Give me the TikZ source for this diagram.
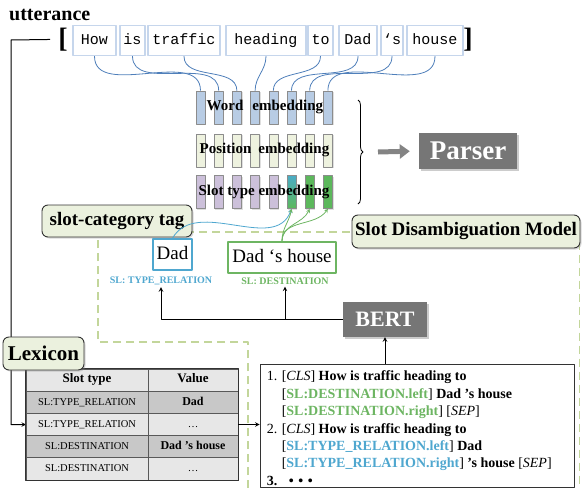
\documentclass[tikz,border=0pt]{standalone}
\usepackage{fontspec}
\setmainfont{Liberation Serif}
\setmonofont{Liberation Mono}
\usetikzlibrary{positioning,shadows,decorations.pathreplacing,arrows.meta}

\definecolor{wordedge}{HTML}{C6D6EC}
\definecolor{linkblue}{HTML}{4F7FBA}
\definecolor{wordcol}{HTML}{B8CCE4}
\definecolor{poscol}{HTML}{EEF2DF}
\definecolor{slotcol}{HTML}{CCC0DA}
\definecolor{slotteal}{HTML}{4BACC6}
\definecolor{slotgreen}{HTML}{5CB85C}
\definecolor{tagfill}{HTML}{EBF1DE}
\definecolor{boxgray}{HTML}{767676}
\definecolor{slblue}{HTML}{4FA7CF}
\definecolor{slgreen}{HTML}{6DB562}
\definecolor{dashgreen}{HTML}{C3D69B}
\definecolor{rowdark}{HTML}{C8C8C8}
\definecolor{rowlight}{HTML}{E7E7E7}

\begin{document}
\begin{tikzpicture}[x=1pt, y=-1pt, line join=round, >=stealth,
  wordbox/.style={draw=wordedge, line width=1.4pt, minimum height=30, inner sep=0pt, text height=10.5, text depth=3, font=\ttfamily\fontsize{15}{15}\selectfont},
  brk/.style={inner sep=0pt, font=\bfseries\fontsize{28}{28}\selectfont},
  embcol/.style={draw=black!45, line width=0.6pt, minimum width=9, minimum height=33, inner sep=0pt, drop shadow={opacity=0.25, shadow xshift=1.2pt, shadow yshift=-1.2pt}},
  emblabel/.style={inner sep=0pt, font=\bfseries\fontsize{15}{15}\selectfont},
  wordlink/.style={draw=linkblue, line width=0.8pt},
  tagbox/.style={draw=black!80, line width=0.9pt, fill=tagfill, rounded corners=6pt, inner sep=0pt, font=\bfseries\fontsize{19}{19}\selectfont, drop shadow={opacity=0.3, shadow xshift=1.5pt, shadow yshift=-1.5pt}},
  darkbox/.style={fill=boxgray, text=white, inner sep=0pt, drop shadow={opacity=0.4, shadow xshift=2pt, shadow yshift=-2pt}},
  slotbox/.style={fill=white, line width=1.6pt, inner sep=0pt, minimum height=31, text height=13, text depth=4, font=\fontsize{19}{19}\selectfont},
  sllabel/.style={inner sep=0pt, font=\bfseries\fontsize{10}{10}\selectfont},
  cell/.style={draw=black!65, line width=0.7pt, minimum height=22.2, inner sep=0pt, text height=8, text depth=2.5},
  headfont/.style={font=\bfseries\fontsize{13}{13}\selectfont},
  typefont/.style={font=\fontsize{10.5}{10.5}\selectfont},
  valfont/.style={font=\bfseries\fontsize{12}{12}\selectfont},
  fatarrow/.style={draw=boxgray!90, line width=5pt, -{Triangle[length=10pt,width=14pt]}, shorten >=9pt}
]
\useasboundingbox (0,0) rectangle (582,488);

% slot disambiguation region
\draw[dashgreen, line width=1.2pt, dash pattern=on 8pt off 5pt] (248,488) -- (248,342) -- (98,342) -- (98,232) -- (579.5,232) -- (579.5,488);

% utterance
\node[anchor=base west, inner sep=0pt, font=\bfseries\fontsize{20}{20}\selectfont] (utt) at (9,20) {utterance};
\node[brk, anchor=base] (lbr) at (63,47.3) {[};
\node[brk, anchor=base] (rbr) at (468,47.3) {]};
\node[wordbox, minimum width=43] (w1) at (94.5,40.5) {How};
\node[wordbox, minimum width=25] (w2) at (132.5,40.5) {is};
\node[wordbox, minimum width=72] (w3) at (184,40.5) {traffic};
\node[wordbox, minimum width=80] (w4) at (266,40.5) {heading};
\node[wordbox, minimum width=25] (w5) at (320.5,40.5) {to};
\node[wordbox, minimum width=38] (w6) at (358,40.5) {Dad};
\node[wordbox, minimum width=22] (w7) at (392,40.5) {‘s};
\node[wordbox, minimum width=56] (w8) at (435,40.5) {house};

% embeddings
\foreach \i/\x in {1/200.5,2/218.7,3/236.9,4/255.1,5/273.3,6/291.5,7/309.7,8/327.9}{
  \node[embcol, fill=wordcol] (we\i) at (\x,107.5) {};
  \node[embcol, fill=poscol] (pe\i) at (\x,150.5) {};
}
\foreach \i/\x in {1/200.5,2/218.7,3/236.9,4/255.1,5/273.3}
  \node[embcol, fill=slotcol] (se\i) at (\x,192) {};
\node[embcol, top color=slotteal, bottom color=slotgreen] (se6) at (291.5,192) {};
\node[embcol, fill=slotgreen] (se7) at (309.7,192) {};
\node[embcol, fill=slotgreen] (se8) at (327.9,192) {};
\node[emblabel] (wl) at (265,107) {Word\hspace{9pt}embedding};
\node[emblabel] (pl) at (264.5,150) {Position\hspace{7pt}embedding};
\node[emblabel] (sl) at (264,192) {Slot type embedding};

\foreach \i in {1,...,8}
\draw[wordlink]
(w\i.south) to[out=-90,in=90] (we\i.north)
;

% parser
\draw[decorate, decoration={brace, amplitude=5pt}, line width=0.8pt] (358,100) -- (358,204);
\coordinate (ga) at (378,152);
\node[darkbox, minimum width=98, minimum height=36, font=\bfseries\fontsize{27}{27}\selectfont] (parser) at (468,151) {Parser};
\draw[fatarrow] (ga) -- (parser.west);

% slot disambiguation model
\node[tagbox, minimum width=150, minimum height=32] (tag) at (117,221) {slot-category tag};
\node[tagbox, minimum width=228, minimum height=33] (sdm) at (466,231.5) {Slot Disambiguation Model};
\node[slotbox, draw=slblue, minimum width=39] (dad) at (172.5,254.5) {Dad};
\node[slotbox, draw=slgreen, minimum width=108] (dh) at (282,257.5) {Dad ‘s house};
\node[sllabel, text=slblue] (trlab) at (161,281) {SL: TYPE\_RELATION};
\node[sllabel, text=slgreen] (dslab) at (285,281) {SL: DESTINATION};

\draw[->, slblue, line width=0.8pt] (dad.north) to[out=60,in=-110] (se6.south);
\foreach \j/\a in {6/-100,7/-115,8/-125}
\draw[->, slgreen, line width=0.8pt]
(dh.north) to[out=90,in=\a] (se\j.south)
;

\node[darkbox, minimum width=84, minimum height=35, font=\bfseries\fontsize{22}{22}\selectfont] (bert) at (385,319.5) {BERT};
\draw[->, line width=1pt] (bert.west) -| ([yshift=-2pt]trlab.south);
\draw[->, line width=1pt] (bert.west -| dslab.south) -- ([yshift=-2pt]dslab.south);

% bert input
\node[draw=black!80, line width=0.8pt, minimum width=314, minimum height=123, inner sep=0pt] (inp) at (417,425.5) {};
\node[anchor=north west, inner sep=0pt, font=\fontsize{14}{17.4}\selectfont] (inptxt) at ([shift={(7,5)}]inp.north west) {%
\begin{tabular}{@{}l@{\hspace{4.5pt}}l@{}}
1. & [\textit{CLS}] \textbf{How is traffic heading to}\\
   & [\textbf{\color{slgreen}SL:DESTINATION.left}] \textbf{Dad 's house}\\
   & [\textbf{\color{slgreen}SL:DESTINATION.right}] [\textit{SEP}]\\
2. & [\textit{CLS}] \textbf{How is traffic heading to}\\
   & [\textbf{\color{slblue}SL:TYPE\_RELATION.left}] \textbf{Dad}\\
   & [\textbf{\color{slblue}SL:TYPE\_RELATION.right}] \textbf{'s house} [\textit{SEP}]\\
\textbf{3.} & \textbf{\ \ •\,\,•\,\,•}
\end{tabular}};
\draw[->, line width=1pt] (bert.south |- inp.north) -- (bert.south);

% lexicon
\coordinate (lc) at (11,40);
\draw[->, line width=1pt] ([xshift=-8pt]lbr.west) -- (lc) |- (26,424.5);
\node[cell, fill=rowlight, minimum width=122, headfont] (t0a) at (87,380.1) {Slot type};
\node[cell, fill=rowlight, minimum width=90, headfont] (t0b) at (193,380.1) {Value};
\node[cell, fill=rowdark, minimum width=122, typefont] (t1a) at (87,402.3) {SL:TYPE\_RELATION};
\node[cell, fill=rowdark, minimum width=90, valfont] (t1b) at (193,402.3) {Dad};
\node[cell, fill=rowlight, minimum width=122, typefont] (t2a) at (87,424.5) {SL:TYPE\_RELATION};
\node[cell, fill=rowlight, minimum width=90, typefont] (t2b) at (193,424.5) {\ldots};
\node[cell, fill=rowdark, minimum width=122, typefont] (t3a) at (87,446.7) {SL:DESTINATION};
\node[cell, fill=rowdark, minimum width=90, valfont] (t3b) at (193,446.7) {Dad ’s house};
\node[cell, fill=rowlight, minimum width=122, typefont] (t4a) at (87,468.9) {SL:DESTINATION};
\node[cell, fill=rowlight, minimum width=90, typefont] (t4b) at (193,468.9) {\ldots};
\draw[line width=1pt, black!80] (t0a.north west) rectangle (t4b.south east);
\draw[->, line width=1pt] (t2b.east) -- (t2b.east -| inp.west);
\node[tagbox, minimum width=81, minimum height=33, font=\bfseries\fontsize{21}{21}\selectfont] (lex) at (43.5,353.5) {Lexicon};

\end{tikzpicture}
\end{document}
